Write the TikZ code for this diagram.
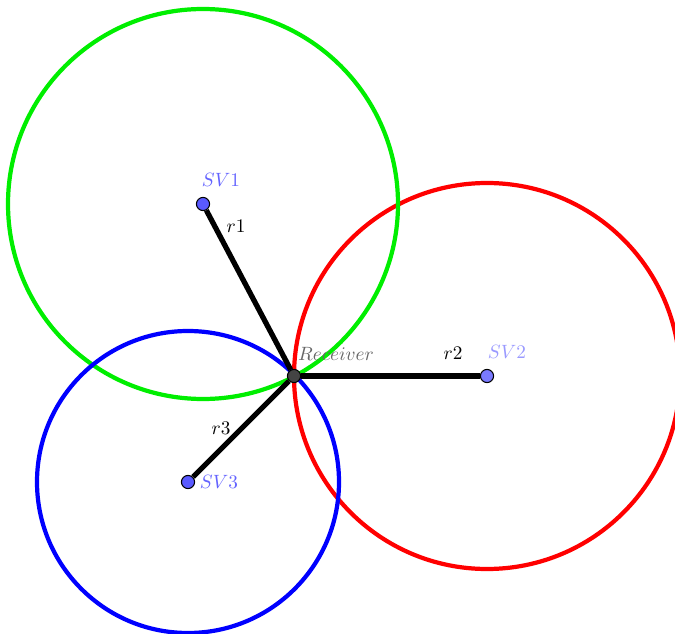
\documentclass[tikz,border=0pt]{standalone}
\usepackage{amsmath}
\usepackage{tikz}
\usetikzlibrary{backgrounds}
\definecolor{cgreen}{HTML}{00EE00}
\definecolor{cred}{HTML}{FF0000}
\definecolor{cblue}{HTML}{0000FF}
\definecolor{csat}{HTML}{5A5AFF}
\definecolor{csatb}{HTML}{7A7AFF}
\definecolor{csvlab}{HTML}{6464FF}
\definecolor{csvlabb}{HTML}{9A9AFF}
\definecolor{crcv}{HTML}{444444}
\definecolor{crcvlab}{HTML}{666666}

\begin{document}
\begin{tikzpicture}[x=0.02cm,y=-0.02cm,
  sat/.style={circle,draw=black,line width=0.6pt,fill=csat,minimum size=7.5pt,inner sep=0pt},
  rangeline/.style={line width=3pt,black},
  orbit/.style={line width=2.4pt},
  lab/.style={font=\fontsize{11}{13}\selectfont,inner sep=1pt}]
  \useasboundingbox (0,0) rectangle (675,634);
  \node[sat] (sv1) at (203,204) {};
  \node[sat,fill=csatb] (sv2) at (487,376) {};
  \node[sat] (sv3) at (188,482) {};
  \node[sat,fill=crcv] (rcv) at (294,376) {};
  \node[lab,text=csvlab] (sv1lab) at (221,180) {$SV1$};
  \node[lab,text=csvlabb] (sv2lab) at (507,352) {$SV2$};
  \node[lab,text=csvlab] (sv3lab) at (219,482) {$SV3$};
  \node[lab,text=crcvlab] (rcvlab) at (336,354) {$Receiver$};
  \node[lab] (r1lab) at (236,226) {$r1$};
  \node[lab] (r2lab) at (453,353) {$r2$};
  \node[lab] (r3lab) at (221,428) {$r3$};
  \begin{pgfonlayer}{background}
    \draw[orbit,cred] (sv2.center) circle[radius=193];
    \draw[orbit,cgreen] (sv1.center) circle[radius=195];
    \draw[orbit,cblue] (sv3.center) circle[radius=151];
    \draw[rangeline] (sv1) -- (rcv);
    \draw[rangeline] (sv2) -- (rcv);
    \draw[rangeline] (sv3) -- (rcv);
  \end{pgfonlayer}
\end{tikzpicture}
\end{document}
